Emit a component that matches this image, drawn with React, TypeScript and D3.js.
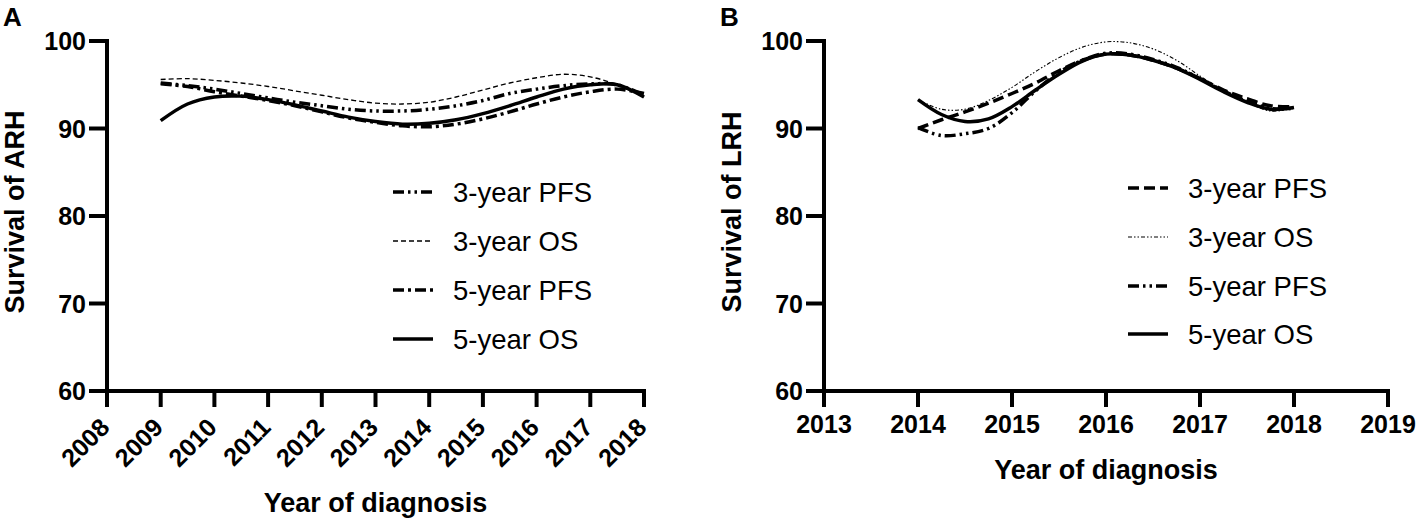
import React from 'react';
import * as d3 from 'd3';

// ---- panel A: ARH ----
const yearsA = [2009, 2009.5, 2010, 2010.5, 2011, 2011.5, 2012, 2012.5, 2013, 2013.5, 2014, 2014.5, 2015, 2015.5, 2016, 2016.5, 2017, 2017.5, 2018];
const arhPfs3 = [95.2, 94.9, 94.5, 94.0, 93.5, 93.0, 92.6, 92.2, 92.0, 92.0, 92.2, 92.6, 93.2, 94.0, 94.5, 94.9, 95.1, 95.0, 93.8];
const arhOs3 = [95.6, 95.7, 95.5, 95.2, 94.8, 94.3, 93.8, 93.3, 92.9, 92.8, 93.0, 93.6, 94.4, 95.2, 95.8, 96.2, 95.9, 95.0, 93.6];
const arhPfs5 = [95.1, 94.8, 94.2, 93.7, 93.2, 92.6, 91.9, 91.2, 90.7, 90.3, 90.2, 90.5, 91.1, 91.9, 92.8, 93.6, 94.2, 94.5, 94.0];
const arhOs5 = [90.9, 92.8, 93.6, 93.7, 93.3, 92.7, 92.0, 91.3, 90.8, 90.5, 90.6, 91.0, 91.7, 92.6, 93.6, 94.5, 95.0, 95.0, 93.6];
const xTicksA = [2008, 2009, 2010, 2011, 2012, 2013, 2014, 2015, 2016, 2017, 2018];

// ---- panel B: LRH ----
const yearsB = [2014, 2014.25, 2014.5, 2014.75, 2015, 2015.25, 2015.5, 2015.75, 2016, 2016.25, 2016.5, 2016.75, 2017, 2017.25, 2017.5, 2017.75, 2018];
const lrhPfs3 = [90.0, 91.0, 91.9, 92.9, 94.0, 95.2, 96.6, 97.8, 98.5, 98.4, 97.8, 96.9, 95.7, 94.4, 93.4, 92.6, 92.5];
const lrhOs3 = [93.3, 92.2, 92.2, 93.2, 94.7, 96.5, 98.1, 99.3, 99.9, 99.8, 99.1, 97.8, 96.0, 94.3, 93.0, 92.0, 92.3];
const lrhPfs5 = [90.1, 89.2, 89.4, 90.0, 91.8, 94.3, 96.4, 97.8, 98.6, 98.5, 97.9, 97.0, 95.7, 94.3, 93.1, 92.3, 92.3];
const lrhOs5 = [93.3, 91.6, 90.8, 91.1, 92.5, 94.4, 96.2, 97.7, 98.5, 98.4, 97.8, 96.9, 95.6, 94.2, 93.0, 92.2, 92.4];
const xTicksB = [2013, 2014, 2015, 2016, 2017, 2018, 2019];

const yTicks = [60, 70, 80, 90, 100];

type Series = { name: string, values: number[], width: number, dash: string };

const seriesA: Series[] = [
  { name: '3-year PFS', values: arhPfs3, width: 3.5, dash: '11 4 2.5 4 2.5 4' },
  { name: '3-year OS', values: arhOs3, width: 1.3, dash: '5 3' },
  { name: '5-year PFS', values: arhPfs5, width: 3.5, dash: '11 4 3 4' },
  { name: '5-year OS', values: arhOs5, width: 3.5, dash: '0' },
];
const seriesB: Series[] = [
  { name: '3-year PFS', values: lrhPfs3, width: 3.5, dash: '11 5' },
  { name: '3-year OS', values: lrhOs3, width: 1.1, dash: '4 2 1.5 2 1.5 2' },
  { name: '5-year PFS', values: lrhPfs5, width: 3.5, dash: '11 4 2.5 4 2.5 4' },
  { name: '5-year OS', values: lrhOs5, width: 3.5, dash: '0' },
];

const font = '"Liberation Sans", Arial, Helvetica, sans-serif';

type PanelProps = {
  letter: string,
  yLabel: string,
  years: number[],
  series: Series[],
  xTicks: number[],
  x0: number,
  x1: number,
  rotate: boolean,
  legendX: number,
  legendY: number[],
};

const Panel: React.FC<PanelProps> = ({ letter, yLabel, years, series, xTicks, x0, x1, rotate, legendX, legendY }) => {
  const top = 41;
  const bottom = 391;
  const tick = 16;
  const xScale = d3.scaleLinear().domain([xTicks[0], xTicks[xTicks.length - 1]]).range([x0, x1]);
  const yScale = d3.scaleLinear().domain([60, 100]).range([bottom, top]);
  const line = d3.line<number>()
    .x((_, i) => xScale(years[i]))
    .y(d => yScale(d))
    .curve(d3.curveCatmullRom.alpha(0.5));

  return (
    <g fontFamily={font}>
      <text x={x0 - 104} y={26} fontSize={26} fontWeight="bold">{letter}</text>
      <text transform={`translate(${x0 - 83}, ${(top + bottom) / 2 - 4}) rotate(-90)`} textAnchor="middle" fontSize={27} fontWeight="bold">{yLabel}</text>
      <text x={(x0 + x1) / 2} y={rotate ? 512 : 479} textAnchor="middle" fontSize={27} fontWeight="bold">Year of diagnosis</text>

      {/* y axis */}
      <line x1={x0} x2={x0} y1={top - 2} y2={bottom + tick} stroke="black" strokeWidth={4} />
      {yTicks.map(v => (
        <g key={v} transform={`translate(0, ${yScale(v)})`}>
          <line x1={x0 - tick - 2} x2={x0} stroke="black" strokeWidth={4} />
          <text x={x0 - 21} dy="0.36em" textAnchor="end" fontSize={25} fontWeight="bold">{v}</text>
        </g>
      ))}

      {/* x axis */}
      <line x1={x0} x2={x1 + 2} y1={bottom} y2={bottom} stroke="black" strokeWidth={4} />
      {xTicks.map(v => (
        <g key={v} transform={`translate(${xScale(v)}, ${bottom})`}>
          <line y1={0} y2={tick} stroke="black" strokeWidth={4} />
          {rotate
            ? <text transform="translate(4, 38) rotate(-45)" textAnchor="end" fontSize={25} fontWeight="bold">{v}</text>
            : <text y={42} textAnchor="middle" fontSize={25} fontWeight="bold">{v}</text>}
        </g>
      ))}

      {series.map(s => (
        <path key={s.name} d={line(s.values) || ''} fill="none" stroke="black" strokeWidth={s.width} strokeDasharray={s.dash} />
      ))}

      {series.map((s, i) => (
        <g key={'lg' + s.name} transform={`translate(${legendX}, ${legendY[i]})`}>
          <line x1={0} x2={40} stroke="black" strokeWidth={s.width} strokeDasharray={s.dash} />
          <text x={60} dy="0.36em" fontSize={27.5}>{s.name}</text>
        </g>
      ))}
    </g>
  );
};

const App: React.FC = () => {
  return (
    <svg width={1417} height={522} style={{ position: 'absolute', left: 0, top: 0, background: '#fff' }}>
      <Panel letter="A" yLabel="Survival of ARH" years={yearsA} series={seriesA} xTicks={xTicksA}
        x0={107} x1={644} rotate={true} legendX={393} legendY={[192, 241, 290, 339]} />
      <Panel letter="B" yLabel="Survival of LRH" years={yearsB} series={seriesB} xTicks={xTicksB}
        x0={824} x1={1388} rotate={false} legendX={1128} legendY={[188, 237, 286, 334]} />
    </svg>
  );
};

export default App;
